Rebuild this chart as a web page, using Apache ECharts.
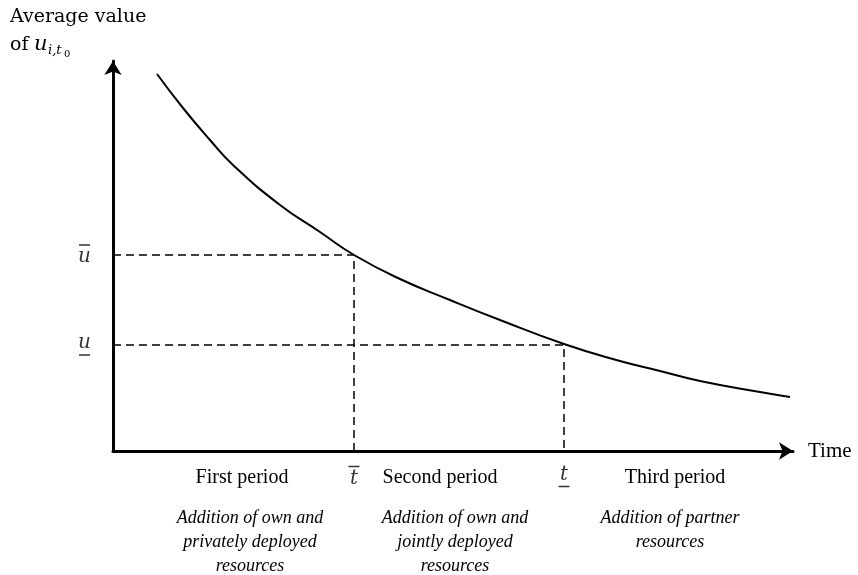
<!DOCTYPE html>
<html>
<head>
<meta charset="utf-8">
<script src="https://cdn.jsdelivr.net/npm/echarts@6/dist/echarts.min.js"></script>
<style>
  html, body { margin: 0; padding: 0; background: #fff; }
  #chart { width: 858px; height: 575px; }
</style>
</head>
<body>
<div id="chart"></div>
<script>
  // curve (time vs average value, arbitrary units)
  const timeVals = [44, 70, 97, 120, 167, 207, 241, 287, 337, 387, 451, 507, 547, 587, 647, 677]
  const avgVals = [377, 343, 311, 286, 246, 219, 196, 172, 151, 131, 107, 90, 80, 70, 59, 54]
  // thresholds
  const tBar = 241
  const uBar = 196
  const tLow = 451
  const uLow = 106

  const periodNames = ['First period', 'Second period', 'Third period']
  const periodNotes = [
    ['Addition of own and', 'privately deployed', 'resources'],
    ['Addition of own and', 'jointly deployed', 'resources'],
    ['Addition of partner', 'resources']
  ]

  const serif = '"Liberation Serif", "Times New Roman", serif'
  const math = '"DejaVu Serif", serif'

  const chart = echarts.init(document.getElementById('chart'))

  let curve = timeVals.map((t, i) => [t, avgVals[i]])

  let dashed = {
    type: [8, 5],
    color: '#000',
    width: 1.5
  }

  let graphics = []
  let periodX = [242, 440, 675]
  let noteX = [250, 455, 670]
  periodNames.forEach((name, i) => {
    graphics.push({
      type: 'text', x: periodX[i], y: 478,
      style: {text: name, font: '20px ' + serif, fill: '#000', align: 'center', verticalAlign: 'middle'}
    })
    periodNotes[i].forEach((line, j) => {
      graphics.push({
        type: 'text', x: noteX[i], y: 518 + j * 24,
        style: {text: line, font: 'italic 18px ' + serif, fill: '#000', align: 'center', verticalAlign: 'middle'}
      })
    })
  })
  // y axis title
  graphics.push(
    {type: 'text', x: 10, y: 17, style: {text: 'Average value', font: '19px ' + math, fill: '#000', verticalAlign: 'middle'}},
    {type: 'text', x: 10, y: 45, style: {text: 'of', font: '19px ' + math, fill: '#000', verticalAlign: 'middle'}},
    {type: 'text', x: 34, y: 45, style: {text: 'u', font: 'italic 21px ' + math, fill: '#000', verticalAlign: 'middle'}},
    {type: 'text', x: 48, y: 51, style: {text: 'i,t', font: 'italic 13px ' + math, fill: '#000', verticalAlign: 'middle'}},
    {type: 'text', x: 64, y: 54, style: {text: '0', font: '10px ' + math, fill: '#000', verticalAlign: 'middle'}},
    {type: 'text', x: 808, y: 451, style: {text: 'Time', font: '21px ' + serif, fill: '#000', verticalAlign: 'middle'}}
  )

  let rich = {
    m: {fontFamily: math, fontStyle: 'italic', fontSize: 20, color: '#000', lineHeight: 20},
    bar: {width: 11, height: 1.5, lineHeight: 4, backgroundColor: '#000', fontSize: 2}
  }
  let markLabel = (txt, pos, over) => ({
    show: true,
    position: pos,
    distance: pos === 'left' ? 28 : 13,
    formatter: over ? '{bar| }\n{m|' + txt + '}' : '{m|' + txt + '}\n{bar| }',
    align: 'center',
    rich: rich
  })

  chart.setOption({
    animation: false,
    grid: {left: 113, right: 65, top: 61, bottom: 124},
    xAxis: {
      type: 'value', min: 0, max: 680,
      axisLine: {show: true, symbol: ['none', 'arrow'], symbolSize: [13, 14], lineStyle: {color: '#000', width: 3}},
      axisTick: {show: false}, axisLabel: {show: false}, splitLine: {show: false}
    },
    yAxis: {
      type: 'value', min: 0, max: 390,
      axisLine: {show: true, symbol: ['none', 'arrow'], symbolSize: [13, 14], lineStyle: {color: '#000', width: 3}},
      axisTick: {show: false}, axisLabel: {show: false}, splitLine: {show: false}
    },
    graphic: graphics,
    series: [
      {
        type: 'line',
        data: [[0, uBar], [tBar, uBar], [tBar, 0]],
        showSymbol: false, lineStyle: dashed, z: 1
      },
      {
        type: 'line',
        data: [[0, uLow], [tLow, uLow], [tLow, 0]],
        showSymbol: false, lineStyle: dashed, z: 1
      },
      {
        // threshold labels
        type: 'scatter',
        symbolSize: 1,
        itemStyle: {color: 'rgba(0,0,0,0)'},
        silent: true,
        data: [
          {value: [0, uBar], label: markLabel('u', 'left', true)},
          {value: [0, uLow], label: markLabel('u', 'left', false)},
          {value: [tBar, 0], label: markLabel('t', 'bottom', true)},
          {value: [tLow, 0], label: markLabel('t', 'bottom', false)}
        ]
      },
      {
        type: 'line',
        data: curve,
        smooth: 0.5,
        showSymbol: false,
        lineStyle: {color: '#000', width: 2},
        z: 3
      }
    ]
  })
</script>
</body>
</html>
